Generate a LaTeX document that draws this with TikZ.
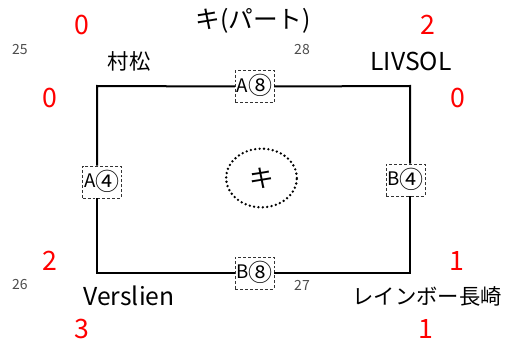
\documentclass[tikz,border=0pt]{standalone}
\usepackage{fontspec}
\setmainfont{Noto Sans CJK JP}
\usetikzlibrary{shapes}
\newcommand{\cnum}[1]{\raisebox{-2pt}{\smash{\fontsize{18}{18}\selectfont #1}}}
\begin{document}
\begin{tikzpicture}[x=0.75pt,y=-0.75pt,
  team/.style={font=\fontsize{18.5}{21}\selectfont},
  jteam/.style={font=\fontsize{16}{19}\selectfont},
  score/.style={text=red,font=\fontsize{20}{22}\selectfont},
  seed/.style={text=black!70,font=\fontsize{10.5}{12}\selectfont},
  court/.style={draw=black!80,dash pattern=on 2.2pt off 1.5pt,fill=white,minimum width=29pt,minimum height=24pt,inner sep=0.5pt,font=\fontsize{14}{16}\selectfont},
  edge/.style={line width=1.5pt}]
\useasboundingbox (0,0) rectangle (506,342);
% corners of the block
\coordinate (tl) at (97,86);
\coordinate (tr) at (410,86);
\coordinate (br) at (410,273);
\coordinate (bl) at (97,273);
% courts
\node[court] (a8) at (254.5,86.5) {A\cnum{⑧}};
\node[court] (a4) at (102,182) {A\cnum{④}};
\node[court] (b4) at (405.5,180) {B\cnum{④}};
\node[court] (b8) at (254.5,273) {B\cnum{⑧}};
\draw[edge] (a8.west) -- (tl) -- (tl |- a4.north);
\draw[edge] (tl |- a4.south) -- (bl) -- (b8.west);
\draw[edge] (a8.east) -- (tr) -- (tr |- b4.north);
\draw[edge] (tr |- b4.south) -- (br) -- (b8.east);
% centre
\node[draw,ellipse,line width=2pt,dash pattern=on 0pt off 3.3pt,line cap=round,minimum width=53pt,minimum height=44pt,font=\fontsize{18.5}{21}\selectfont] (ctr) at (261.5,178) {キ};
\node[font=\fontsize{18.5}{21}\selectfont] (title) at (253,21) {キ(パート)};
% teams
\node[jteam] (t1) at (129,61) {村松};
\node[team] (t2) at (411,61) {LIVSOL};
\node[team] (t3) at (129,296) {Verslien};
\node[jteam] (t4) at (427,296) {レインボー長崎};
% seeds
\node[seed] (s1) at (20,50) {25};
\node[seed] (s2) at (302,50) {28};
\node[seed] (s3) at (20,285) {26};
\node[seed] (s4) at (302,285) {27};
% scores
\node[score] (p1) at (82,25) {0};
\node[score] (p2) at (428,25) {2};
\node[score] (p3) at (50,98) {0};
\node[score] (p4) at (458,98) {0};
\node[score] (p5) at (50,261) {2};
\node[score] (p6) at (457,261) {1};
\node[score] (p7) at (82,329) {3};
\node[score] (p8) at (426,329) {1};
\end{tikzpicture}
\end{document}
